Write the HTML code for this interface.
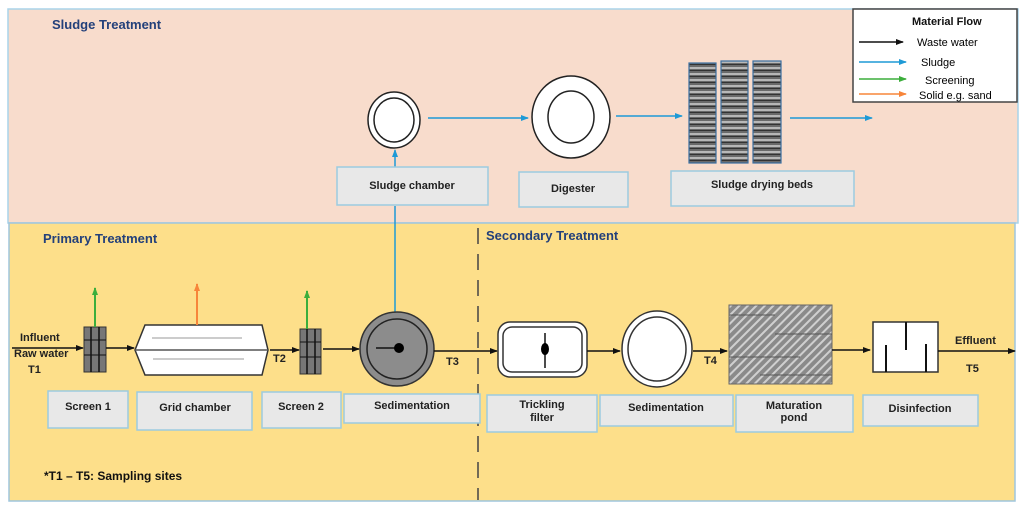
<!DOCTYPE html>
<html><head><meta charset="utf-8"><style>
html,body{margin:0;padding:0;background:#fff;}
svg{display:block;font-family:"Liberation Sans",sans-serif;}
.lb{font-size:11px;font-weight:bold;fill:#222;}
.box{fill:#e8e8e8;stroke:#9ccbe0;stroke-width:1.5;}
</style></head><body>
<svg width="1024" height="508" viewBox="0 0 1024 508" xmlns="http://www.w3.org/2000/svg">
<defs>
<marker id="ak" markerUnits="userSpaceOnUse" markerWidth="8" markerHeight="6" refX="7" refY="3" orient="auto"><path d="M0,0 L8,3 L0,6z" fill="#111"/></marker>
<marker id="ab" markerUnits="userSpaceOnUse" markerWidth="8" markerHeight="6" refX="7" refY="3" orient="auto"><path d="M0,0 L8,3 L0,6z" fill="#1e9ad6"/></marker>
<marker id="ag" markerUnits="userSpaceOnUse" markerWidth="8" markerHeight="6" refX="7" refY="3" orient="auto"><path d="M0,0 L8,3 L0,6z" fill="#3cae3c"/></marker>
<marker id="ao" markerUnits="userSpaceOnUse" markerWidth="8" markerHeight="6" refX="7" refY="3" orient="auto"><path d="M0,0 L8,3 L0,6z" fill="#f7853a"/></marker>
<pattern id="hatch" width="6" height="6" patternUnits="userSpaceOnUse" patternTransform="rotate(45)"><rect width="6" height="6" fill="#8a8a8a"/><rect width="2" height="6" fill="#cfcfcf"/></pattern>
<pattern id="bed" width="27" height="6" patternUnits="userSpaceOnUse"><rect width="27" height="6" fill="#6a6a6a"/><rect y="1" width="27" height="2" fill="#b8b8b8"/><rect y="4" width="27" height="1" fill="#333"/></pattern>
</defs>
<rect x="8" y="9" width="1010" height="214" fill="#f8dccc" stroke="#a9d4ea" stroke-width="1.5"/>
<rect x="9" y="223" width="1006" height="278" fill="#fddf8a" stroke="#9fc6de" stroke-width="1.5"/>
<text x="52" y="29" font-size="13" font-weight="bold" fill="#23407a">Sludge Treatment</text>
<text x="43" y="243" font-size="13" font-weight="bold" fill="#23407a">Primary Treatment</text>
<text x="486" y="240" font-size="13" font-weight="bold" fill="#23407a">Secondary Treatment</text>
<line x1="478" y1="228" x2="478" y2="500" stroke="#444" stroke-width="1.5" stroke-dasharray="16,10"/>
<rect x="853" y="9" width="164" height="93" fill="#fff" stroke="#444" stroke-width="1.5"/>
<text x="912" y="25" font-size="11" font-weight="bold" fill="#111">Material Flow</text>
<line x1="859" y1="42" x2="903" y2="42" stroke="#111" stroke-width="1.5" marker-end="url(#ak)"/><text x="917" y="46" font-size="11">Waste water</text>
<line x1="859" y1="62" x2="906" y2="62" stroke="#1e9ad6" stroke-width="1.5" marker-end="url(#ab)"/><text x="921" y="66" font-size="11">Sludge</text>
<line x1="859" y1="79" x2="906" y2="79" stroke="#3cae3c" stroke-width="1.5" marker-end="url(#ag)"/><text x="925" y="84" font-size="11">Screening</text>
<line x1="859" y1="94" x2="906" y2="94" stroke="#f7853a" stroke-width="1.5" marker-end="url(#ao)"/><text x="919" y="99" font-size="11">Solid e.g. sand</text>
<ellipse cx="394" cy="120" rx="26" ry="28" fill="#fff" stroke="#222" stroke-width="1.5"/>
<ellipse cx="394" cy="120" rx="20" ry="22" fill="#fff" stroke="#222" stroke-width="1.5"/>
<line x1="428" y1="118" x2="528" y2="118" stroke="#1e9ad6" stroke-width="1.5" marker-end="url(#ab)"/>
<ellipse cx="571" cy="117" rx="39" ry="41" fill="#fff" stroke="#222" stroke-width="1.5"/>
<ellipse cx="571" cy="117" rx="23" ry="26" fill="#fff" stroke="#222" stroke-width="1.5"/>
<line x1="616" y1="116" x2="682" y2="116" stroke="#1e9ad6" stroke-width="1.5" marker-end="url(#ab)"/>
<rect x="689" y="63" width="27" height="100" fill="url(#bed)" stroke="#3a6fa0" stroke-width="1.2"/>
<rect x="721" y="61" width="27" height="102" fill="url(#bed)" stroke="#3a6fa0" stroke-width="1.2"/>
<rect x="753" y="61" width="28" height="102" fill="url(#bed)" stroke="#3a6fa0" stroke-width="1.2"/>
<line x1="790" y1="118" x2="872" y2="118" stroke="#1e9ad6" stroke-width="1.5" marker-end="url(#ab)"/>
<line x1="395" y1="167" x2="395" y2="150" stroke="#1e9ad6" stroke-width="1.5" marker-end="url(#ab)"/>
<line x1="395" y1="206" x2="395" y2="312" stroke="#1e9ad6" stroke-width="1.5"/>
<rect class="box" x="337" y="167" width="151" height="38"/><text class="lb" x="412" y="189" text-anchor="middle">Sludge chamber</text>
<rect class="box" x="519" y="172" width="109" height="35"/><text class="lb" x="573" y="192" text-anchor="middle">Digester</text>
<rect class="box" x="671" y="171" width="183" height="35"/><text class="lb" x="762" y="188" text-anchor="middle">Sludge drying beds</text>
<line x1="12" y1="348" x2="83" y2="348" stroke="#111" stroke-width="1.5" marker-end="url(#ak)"/>
<text class="lb" x="20" y="341">Influent</text><text class="lb" x="14" y="357">Raw water</text><text class="lb" x="28" y="373">T1</text>
<rect x="84" y="327" width="22" height="45" fill="#777" stroke="#333"/>
<line x1="91" y1="327" x2="91" y2="372" stroke="#111" stroke-width="1.5"/><line x1="99" y1="327" x2="99" y2="372" stroke="#111" stroke-width="1.5"/>
<line x1="84" y1="340" x2="106" y2="340" stroke="#111"/><line x1="84" y1="355" x2="106" y2="355" stroke="#111"/>
<line x1="95" y1="327" x2="95" y2="288" stroke="#3cae3c" stroke-width="2" marker-end="url(#ag)"/>
<line x1="106" y1="348" x2="134" y2="348" stroke="#111" stroke-width="1.5" marker-end="url(#ak)"/>
<polygon points="145,325 262,325 268,350 262,375 145,375 135,350" fill="#fff" stroke="#333" stroke-width="1.5"/>
<line x1="135" y1="350" x2="268" y2="350" stroke="#555" stroke-width="1.5"/>
<line x1="152" y1="338" x2="242" y2="338" stroke="#999"/><line x1="153" y1="359" x2="244" y2="359" stroke="#999"/>
<line x1="197" y1="325" x2="197" y2="284" stroke="#f7853a" stroke-width="2" marker-end="url(#ao)"/>
<line x1="270" y1="350" x2="299" y2="350" stroke="#111" stroke-width="1.5" marker-end="url(#ak)"/>
<text class="lb" x="273" y="362">T2</text>
<rect x="300" y="329" width="21" height="45" fill="#777" stroke="#333"/>
<line x1="307" y1="329" x2="307" y2="374" stroke="#111" stroke-width="1.5"/><line x1="315" y1="329" x2="315" y2="374" stroke="#111" stroke-width="1.5"/>
<line x1="300" y1="342" x2="321" y2="342" stroke="#111"/><line x1="300" y1="357" x2="321" y2="357" stroke="#111"/>
<line x1="307" y1="329" x2="307" y2="291" stroke="#3cae3c" stroke-width="2" marker-end="url(#ag)"/>
<line x1="323" y1="349" x2="359" y2="349" stroke="#111" stroke-width="1.5" marker-end="url(#ak)"/>
<circle cx="397" cy="349" r="37" fill="#8c8c8c" stroke="#333" stroke-width="1.5"/>
<circle cx="397" cy="349" r="30" fill="#8c8c8c" stroke="#222" stroke-width="1.5"/>
<line x1="376" y1="348" x2="398" y2="348" stroke="#111" stroke-width="1.5"/><circle cx="399" cy="348" r="5" fill="#000"/>
<line x1="434" y1="351" x2="497" y2="351" stroke="#111" stroke-width="1.5" marker-end="url(#ak)"/>
<text class="lb" x="446" y="365">T3</text>
<rect x="498" y="322" width="89" height="55" rx="12" fill="#fff" stroke="#333" stroke-width="1.5"/>
<rect x="503" y="327" width="79" height="45" rx="9" fill="#fff" stroke="#333" stroke-width="1.5"/>
<line x1="545" y1="333" x2="545" y2="368" stroke="#111" stroke-width="1.5"/><ellipse cx="545" cy="349" rx="4" ry="6" fill="#000"/>
<line x1="587" y1="351" x2="620" y2="351" stroke="#111" stroke-width="1.5" marker-end="url(#ak)"/>
<ellipse cx="657" cy="349" rx="35" ry="38" fill="#fff" stroke="#333" stroke-width="1.5"/>
<ellipse cx="657" cy="349" rx="29" ry="32" fill="#fff" stroke="#333" stroke-width="1.5"/>
<line x1="693" y1="351" x2="727" y2="351" stroke="#111" stroke-width="1.5" marker-end="url(#ak)"/>
<text class="lb" x="704" y="364">T4</text>
<rect x="729" y="305" width="103" height="79" fill="url(#hatch)" stroke="#666"/>
<line x1="729" y1="315" x2="775" y2="315" stroke="#555"/><line x1="775" y1="334" x2="832" y2="334" stroke="#555"/><line x1="729" y1="357" x2="800" y2="357" stroke="#555"/><line x1="760" y1="375" x2="832" y2="375" stroke="#555"/>
<line x1="832" y1="350" x2="870" y2="350" stroke="#111" stroke-width="1.5" marker-end="url(#ak)"/>
<rect x="873" y="322" width="65" height="50" fill="#fff" stroke="#333" stroke-width="1.5"/>
<line x1="886" y1="345" x2="886" y2="372" stroke="#111" stroke-width="2"/><line x1="906" y1="322" x2="906" y2="350" stroke="#111" stroke-width="2"/><line x1="926" y1="344" x2="926" y2="372" stroke="#111" stroke-width="2"/>
<line x1="938" y1="351" x2="1015" y2="351" stroke="#111" stroke-width="1.5" marker-end="url(#ak)"/>
<text class="lb" x="955" y="344">Effluent</text><text class="lb" x="966" y="372">T5</text>
<rect class="box" x="48" y="391" width="80" height="37"/><text class="lb" x="88" y="410" text-anchor="middle">Screen 1</text>
<rect class="box" x="137" y="392" width="115" height="38"/><text class="lb" x="195" y="411" text-anchor="middle">Grid chamber</text>
<rect class="box" x="262" y="392" width="79" height="36"/><text class="lb" x="301" y="410" text-anchor="middle">Screen 2</text>
<rect class="box" x="344" y="394" width="136" height="29"/><text class="lb" x="412" y="409" text-anchor="middle">Sedimentation</text>
<rect class="box" x="487" y="395" width="110" height="37"/><text class="lb" x="542" y="408" text-anchor="middle">Trickling</text><text class="lb" x="542" y="421" text-anchor="middle">filter</text>
<rect class="box" x="600" y="395" width="133" height="31"/><text class="lb" x="666" y="411" text-anchor="middle">Sedimentation</text>
<rect class="box" x="736" y="395" width="117" height="37"/><text class="lb" x="794" y="409" text-anchor="middle">Maturation</text><text class="lb" x="794" y="421" text-anchor="middle">pond</text>
<rect class="box" x="863" y="395" width="115" height="31"/><text class="lb" x="920" y="412" text-anchor="middle">Disinfection</text>
<text x="44" y="480" font-size="12" font-weight="bold" fill="#111">*T1 – T5: Sampling sites</text>
</svg>
</body></html>
